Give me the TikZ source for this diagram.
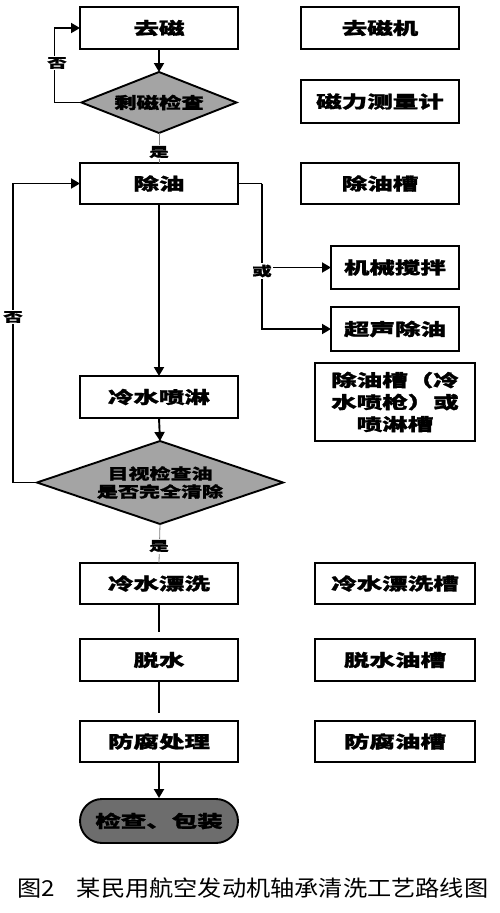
\documentclass[tikz,border=0pt]{standalone}
\usepackage{graphicx}
\usepackage{fontspec}
\setmainfont{Noto Sans CJK SC}[BoldFeatures={FakeBold=1.2}]
\usetikzlibrary{shapes.geometric,shapes.misc,arrows.meta}
\newcommand{\wideT}[2]{\scalebox{#1}[1]{#2}}
\definecolor{diagray}{HTML}{A4A4A4}
\definecolor{endgray}{HTML}{6D6D6D}
\begin{document}
\begin{tikzpicture}[x=1pt,y=-1pt,
  box/.style={draw, line width=1.9pt, minimum width=158pt, minimum height=42pt, inner sep=0pt, outer sep=0pt, font=\fontsize{17}{20}\selectfont\bfseries},
  dia/.style={diamond, draw, fill=diagray, line width=1.9pt, inner sep=0pt, outer sep=0pt},
  arr/.style={line width=1.9pt, -{Triangle[length=9pt,width=10pt]}},
  ln/.style={line width=1.9pt},
  thinln/.style={line width=0.8pt, gray},
  lab/.style={font=\fontsize{13}{15}\selectfont\bfseries, inner sep=1.5pt, fill=white}
]
\useasboundingbox (0,0) rectangle (500,913);

% left column
\node[box] (a1) at (159,28) {\wideT{1.5}{去磁}};
\node[dia, minimum width=155pt, minimum height=61pt,
  label={[font=\fontsize{16}{18}\selectfont\bfseries]center:\wideT{1.4}{剩磁检查}}] (d1) at (159,102.5) {};
\node[box, minimum height=41pt] (a2) at (159,183.5) {\wideT{1.5}{除油}};
\node[box] (a3) at (159,397) {\wideT{1.5}{冷水喷淋}};
\node[dia, minimum width=246pt, minimum height=83pt] (d2) at (160,482.5) {};
\node[font=\fontsize{15}{18}\selectfont\bfseries, align=center, inner sep=0pt] (d2t) at (d2.center) {\wideT{1.4}{目视检查油}\\\wideT{1.4}{是否完全清除}};
\node[box, minimum height=41pt] (a4) at (159,583.5) {\wideT{1.5}{冷水漂洗}};
\node[box] (a5) at (159,660) {\wideT{1.5}{脱水}};
\node[box, minimum height=41pt] (a6) at (159,741.5) {\wideT{1.5}{防腐处理}};
\node[rounded rectangle, draw, fill=endgray, line width=1.9pt, minimum width=158pt, minimum height=44pt, inner sep=0pt, font=\fontsize{17}{20}\selectfont\bfseries] (e) at (159,821) {\wideT{1.5}{检查、包装}};

% right column
\node[box] (r1) at (380,28) {\wideT{1.5}{去磁机}};
\node[box, minimum height=43pt] (r2) at (380,101.5) {\wideT{1.5}{磁力测量计}};
\node[box, minimum height=41pt] (r3) at (380,183.5) {\wideT{1.5}{除油槽}};
\node[box, minimum width=128pt, minimum height=43pt] (m1) at (395,267.5) {\wideT{1.5}{机械搅拌}};
\node[box, minimum width=128pt, minimum height=44pt] (m2) at (395,329) {\wideT{1.5}{超声除油}};
\node[box, minimum width=160pt, minimum height=78pt, align=center, font=\fontsize{17}{22}\selectfont\bfseries] (m3) at (395,402) {\wideT{1.5}{除油槽（冷}\\\wideT{1.5}{水喷枪）或}\\\wideT{1.5}{喷淋槽}};
\node[box, minimum width=160pt, minimum height=41pt] (r4) at (395,583.5) {\wideT{1.5}{冷水漂洗槽}};
\node[box, minimum width=160pt] (r5) at (395,660) {\wideT{1.5}{脱水油槽}};
\node[box, minimum width=160pt, minimum height=41pt] (r6) at (395,741.5) {\wideT{1.5}{防腐油槽}};

% connectors
\draw[arr] (a1.south) -- (d1.north);
\draw[arr] (d1.west) -- ++(-27,0) coordinate (c1) |- (a1.west);
\node[lab] (no1) at (57,63) {\wideT{1.5}{否}};
\draw[thinln] (d1.south) -- (a2.north);
\node[lab] (yes1) at (159,152) {\wideT{1.5}{是}};

\draw[arr] (a2.south) -- (a3.north);
\draw[ln] (a2.east) -- ++(24,0) coordinate (c2);
\draw[arr] (c2) |- (m2.west);
\draw[arr] (c2 |- m1.west) -- (m1.west);
\node[lab] (or1) at (262,271) {\wideT{1.5}{或}};

\draw[arr] (a3.south) -- (d2.north);
\draw[arr] (d2.west) -- ++(-24,0) coordinate (c3) |- (a2.west);
\node[lab] (no2) at (13,317) {\wideT{1.5}{否}};
\draw[thinln] (d2.south) -- (a4.north);
\node[lab] (yes2) at (159,546) {\wideT{1.5}{是}};

\draw[ln, shorten >=7pt] (a4.south) -- (a5.north);
\draw[ln, shorten >=8pt] (a5.south) -- (a6.north);
\draw[arr] (a6.south) -- (e.north);

% caption
\node[font=\fontsize{22}{24}\selectfont, inner sep=0pt, anchor=west] (cap) at (17,888) {\wideT{1.1}{图2\hspace{20pt}某民用航空发动机轴承清洗工艺路线图}};
\end{tikzpicture}
\end{document}
